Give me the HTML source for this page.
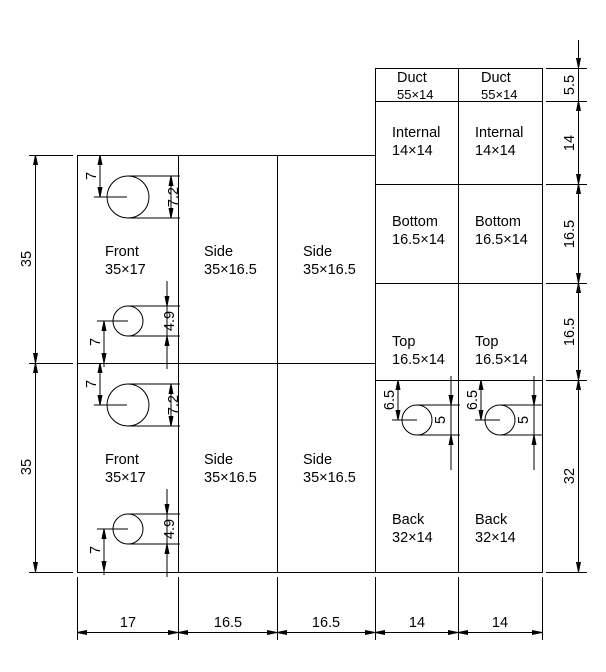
<!DOCTYPE html>
<html><head><meta charset="utf-8"><style>
html,body{margin:0;padding:0;background:#fff;}
svg{display:block}
text{font-family:"Liberation Sans",sans-serif;font-size:14.5px;fill:#000;}
</style></head><body>
<svg width="606" height="672" viewBox="0 0 606 672" xmlns="http://www.w3.org/2000/svg">
<defs>
<marker id="a" viewBox="0 0 10 5" refX="10" refY="2.5" markerWidth="10" markerHeight="5" markerUnits="userSpaceOnUse" orient="auto-start-reverse"><path d="M0,0L10,2L10,3L0,5z" fill="#000"/></marker>
<g id="front" stroke="#000" stroke-width="1" fill="none">
<circle cx="128" cy="42" r="21"/>
<line x1="94" y1="42" x2="127" y2="42"/>
<line x1="128" y1="21" x2="180" y2="21"/>
<line x1="128" y1="63" x2="180" y2="63"/>
<line x1="171" y1="21" x2="171" y2="63" marker-start="url(#a)" marker-end="url(#a)"/>
<line x1="100" y1="0" x2="100" y2="42" marker-start="url(#a)" marker-end="url(#a)"/>
<circle cx="128" cy="166" r="15"/>
<line x1="97" y1="166" x2="128" y2="166"/>
<line x1="128" y1="151" x2="180" y2="151"/>
<line x1="128" y1="181" x2="180" y2="181"/>
<line x1="167" y1="126" x2="167" y2="151" marker-end="url(#a)"/>
<line x1="167" y1="151" x2="167" y2="181"/>
<line x1="167" y1="214" x2="167" y2="181" marker-end="url(#a)"/>
<line x1="104" y1="166" x2="104" y2="208" marker-start="url(#a)" marker-end="url(#a)"/>
<line x1="104" y1="208" x2="104" y2="212"/>
</g>
<g id="back" stroke="#000" stroke-width="1" fill="none">
<circle cx="42" cy="40" r="15"/>
<line x1="17" y1="40" x2="42" y2="40"/>
<line x1="42" y1="25" x2="85" y2="25"/>
<line x1="42" y1="55" x2="85" y2="55"/>
<line x1="23" y1="0" x2="23" y2="40" marker-start="url(#a)" marker-end="url(#a)"/>
<line x1="76" y1="-4" x2="76" y2="25" marker-end="url(#a)"/>
<line x1="76" y1="25" x2="76" y2="55"/>
<line x1="76" y1="90" x2="76" y2="55" marker-end="url(#a)"/>
</g>
</defs>
<g stroke="#000" stroke-width="1" fill="none">
<!-- left block -->
<rect x="77.5" y="155.5" width="298" height="417"/>
<line x1="77" y1="363.5" x2="375" y2="363.5"/>
<line x1="178.5" y1="155" x2="178.5" y2="572"/>
<line x1="277.5" y1="155" x2="277.5" y2="572"/>
<!-- right block -->
<rect x="375.5" y="68.5" width="167" height="504"/>
<line x1="458.5" y1="68" x2="458.5" y2="572"/>
<line x1="375" y1="101.5" x2="542" y2="101.5"/>
<line x1="375" y1="184.5" x2="542" y2="184.5"/>
<line x1="375" y1="283.5" x2="542" y2="283.5"/>
<line x1="375" y1="380.5" x2="542" y2="380.5"/>
<!-- left dims -->
<line x1="29" y1="155.5" x2="73" y2="155.5"/>
<line x1="29" y1="363.5" x2="73" y2="363.5"/>
<line x1="29" y1="572.5" x2="73" y2="572.5"/>
<line x1="35.5" y1="155" x2="35.5" y2="363" marker-start="url(#a)" marker-end="url(#a)"/>
<line x1="35.5" y1="363" x2="35.5" y2="572" marker-start="url(#a)" marker-end="url(#a)"/>
<!-- right dims -->
<line x1="546" y1="68.5" x2="587" y2="68.5"/>
<line x1="546" y1="101.5" x2="587" y2="101.5"/>
<line x1="546" y1="184.5" x2="587" y2="184.5"/>
<line x1="546" y1="283.5" x2="587" y2="283.5"/>
<line x1="546" y1="380.5" x2="587" y2="380.5"/>
<line x1="546" y1="572.5" x2="587" y2="572.5"/>
<line x1="578.5" y1="40" x2="578.5" y2="68" marker-end="url(#a)"/>
<line x1="578.5" y1="68" x2="578.5" y2="101"/>
<line x1="578.5" y1="101" x2="578.5" y2="184" marker-start="url(#a)" marker-end="url(#a)"/>
<line x1="578.5" y1="184" x2="578.5" y2="283" marker-start="url(#a)" marker-end="url(#a)"/>
<line x1="578.5" y1="283" x2="578.5" y2="380" marker-start="url(#a)" marker-end="url(#a)"/>
<line x1="578.5" y1="380" x2="578.5" y2="572" marker-start="url(#a)" marker-end="url(#a)"/>
<!-- bottom dims -->
<line x1="77.5" y1="577" x2="77.5" y2="640"/>
<line x1="178.5" y1="577" x2="178.5" y2="640"/>
<line x1="277.5" y1="577" x2="277.5" y2="640"/>
<line x1="375.5" y1="577" x2="375.5" y2="640"/>
<line x1="458.5" y1="577" x2="458.5" y2="640"/>
<line x1="542.5" y1="577" x2="542.5" y2="640"/>
<line x1="77" y1="632.5" x2="178" y2="632.5" marker-start="url(#a)" marker-end="url(#a)"/>
<line x1="178" y1="632.5" x2="277" y2="632.5" marker-start="url(#a)" marker-end="url(#a)"/>
<line x1="277" y1="632.5" x2="375" y2="632.5" marker-start="url(#a)" marker-end="url(#a)"/>
<line x1="375" y1="632.5" x2="458" y2="632.5" marker-start="url(#a)" marker-end="url(#a)"/>
<line x1="458" y1="632.5" x2="542" y2="632.5" marker-start="url(#a)" marker-end="url(#a)"/>
</g>
<use href="#front" transform="translate(0,155)"/>
<use href="#front" transform="translate(0,363)"/>
<use href="#back" transform="translate(375,380)"/>
<use href="#back" transform="translate(458,380)"/>

<!-- labels -->
<text x="105" y="256">Front</text><text x="105" y="274">35×17</text>
<text x="105" y="464">Front</text><text x="105" y="482">35×17</text>
<text x="204" y="256">Side</text><text x="204" y="274">35×16.5</text>
<text x="204" y="464">Side</text><text x="204" y="482">35×16.5</text>
<text x="303" y="256">Side</text><text x="303" y="274">35×16.5</text>
<text x="303" y="464">Side</text><text x="303" y="482">35×16.5</text>
<text x="397" y="82">Duct</text><text x="397" y="99" style="font-size:13px">55×14</text>
<text x="481" y="82">Duct</text><text x="481" y="99" style="font-size:13px">55×14</text>
<text x="392" y="137">Internal</text><text x="392" y="155">14×14</text>
<text x="475" y="137">Internal</text><text x="475" y="155">14×14</text>
<text x="392" y="226">Bottom</text><text x="392" y="244">16.5×14</text>
<text x="475" y="226">Bottom</text><text x="475" y="244">16.5×14</text>
<text x="392" y="346">Top</text><text x="392" y="364">16.5×14</text>
<text x="475" y="346">Top</text><text x="475" y="364">16.5×14</text>
<text x="392" y="524">Back</text><text x="392" y="542">32×14</text>
<text x="475" y="524">Back</text><text x="475" y="542">32×14</text>
<!-- dim numbers -->
<g style="font-size:16px" text-anchor="middle">
<text x="128" y="627">17</text>
<text x="228" y="627">16.5</text>
<text x="326" y="627">16.5</text>
<text x="417" y="627">14</text>
<text x="500" y="627">14</text>
<text transform="translate(31,259) rotate(-90)">35</text>
<text transform="translate(31,467) rotate(-90)">35</text>
<text transform="translate(574,85) rotate(-90)">5.5</text>
<text transform="translate(574,143) rotate(-90)">14</text>
<text transform="translate(574,234) rotate(-90)">16.5</text>
<text transform="translate(574,332) rotate(-90)">16.5</text>
<text transform="translate(574,476) rotate(-90)">32</text>
<text transform="translate(96,176) rotate(-90)">7</text>
<text transform="translate(178,197) rotate(-90)">7.2</text>
<text transform="translate(174,321) rotate(-90)">4.9</text>
<text transform="translate(100,342) rotate(-90)">7</text>
<text transform="translate(96,384) rotate(-90)">7</text>
<text transform="translate(178,405) rotate(-90)">7.2</text>
<text transform="translate(174,529) rotate(-90)">4.9</text>
<text transform="translate(100,550) rotate(-90)">7</text>
<text transform="translate(394,400) rotate(-90)">6.5</text>
<text transform="translate(477,400) rotate(-90)">6.5</text>
<text transform="translate(445,420) rotate(-90)">5</text>
<text transform="translate(528,420) rotate(-90)">5</text>
</g>
</svg>
</body></html>
